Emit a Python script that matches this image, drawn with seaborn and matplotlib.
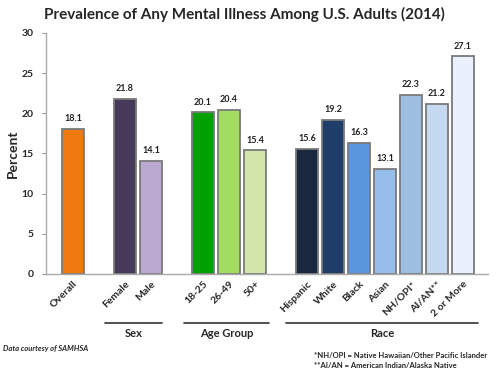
import matplotlib
matplotlib.use("Agg")
import matplotlib.pyplot as plt
import matplotlib.transforms as mtransforms
import seaborn as sns
import pandas as pd

categories = ["Overall", "Female", "Male", "18-25", "26-49", "50+",
              "Hispanic", "White", "Black", "Asian", "NH/OPI*", "AI/AN**", "2 or More"]
values = [18.1, 21.8, 14.1, 20.1, 20.4, 15.4, 15.6, 19.2, 16.3, 13.1, 22.3, 21.2, 27.1]
colors = ["#F07A12", "#47395A", "#BCA9D1", "#00A000", "#A2DC62", "#D3E6AA",
          "#19283F", "#1F3D69", "#5A97DD", "#97BDEC", "#9DBDE1", "#C5DAF1", "#E9F2FC"]
order = ["Overall", " ", "Female", "Male", "  ", "18-25", "26-49", "50+", "   ",
         "Hispanic", "White", "Black", "Asian", "NH/OPI*", "AI/AN**", "2 or More"]
groups = ["Sex", "Age Group", "Race"]
group_spans = [(1.23, 3.42), (4.27, 7.54), (8.19, 15.58)]
title = "Prevalence of Any Mental Illness Among U.S. Adults (2014)"
ylabel = "Percent"
yticks = [0, 5, 10, 15, 20, 25, 30]

sns.set_style("white")
plt.rcParams['font.family'] = ['Lato', 'DejaVu Sans']

df = pd.DataFrame({"cat": categories, "val": values})
fig = plt.figure(figsize=(5.0, 3.87), dpi=100)
ax = fig.add_axes([0.092, 0.292, 0.884, 0.623])

sns.barplot(data=df, x="cat", y="val", hue="cat", order=order, hue_order=categories,
            palette=dict(zip(categories, colors)), width=0.85, legend=False,
            saturation=1, edgecolor="#7a7a7a", linewidth=1.3, ax=ax, dodge=False)

for p, v in zip([0, 2, 3, 5, 6, 7, 9, 10, 11, 12, 13, 14, 15], values):
    ax.annotate(f"{v:.1f}", (p, v), xytext=(0, 4), textcoords="offset points",
                ha="center", va="bottom", fontsize=6.5, fontweight="bold", color="#222222")

ax.set_xlim(-1.04, 15.96)
ax.set_ylim(0, 30)
ax.set_yticks(yticks)
ax.set_yticklabels([str(t) for t in yticks], fontsize=7.5, fontweight="bold")
ax.set_xlabel("")
ax.set_ylabel(ylabel, fontsize=10, fontweight="bold", labelpad=2)
ax.set_title(title, fontsize=11, fontweight="bold", pad=10, x=0.45)

ax.set_xticks(range(len(order)))
ax.set_xticklabels(order, rotation=45, ha="right", rotation_mode="anchor",
                   fontsize=7.5, fontweight="bold")
ax.tick_params(axis="x", length=0, pad=4)
ax.tick_params(axis="y", length=3, width=0.8, color="#999999", left=True, pad=6)

sns.despine(ax=ax, top=True, right=True)
for s in ["left", "bottom"]:
    ax.spines[s].set_color("#aaaaaa")
    ax.spines[s].set_linewidth(1.0)

trans = mtransforms.blended_transform_factory(ax.transData, ax.transAxes)
for g, (a, b) in zip(groups, group_spans):
    ax.plot([a, b], [-0.203, -0.203], color="#333333", lw=1.2, transform=trans, clip_on=False)
    ax.text((a + b) / 2, -0.225, g, transform=trans, ha="center", va="top",
            fontsize=8, fontweight="bold")

fig.text(0.006, 0.10, "Data courtesy of SAMHSA", fontsize=5.5, fontweight="bold",
         style="italic", ha="left", va="center")
fig.text(0.628, 0.082, "*NH/OPI = Native Hawaiian/Other Pacific Islander", fontsize=5.5,
         fontweight="bold", ha="left", va="center")
fig.text(0.628, 0.055, "**AI/AN = American Indian/Alaska Native", fontsize=5.5,
         fontweight="bold", ha="left", va="center")

fig.savefig("out.png", dpi=100, facecolor="white")
